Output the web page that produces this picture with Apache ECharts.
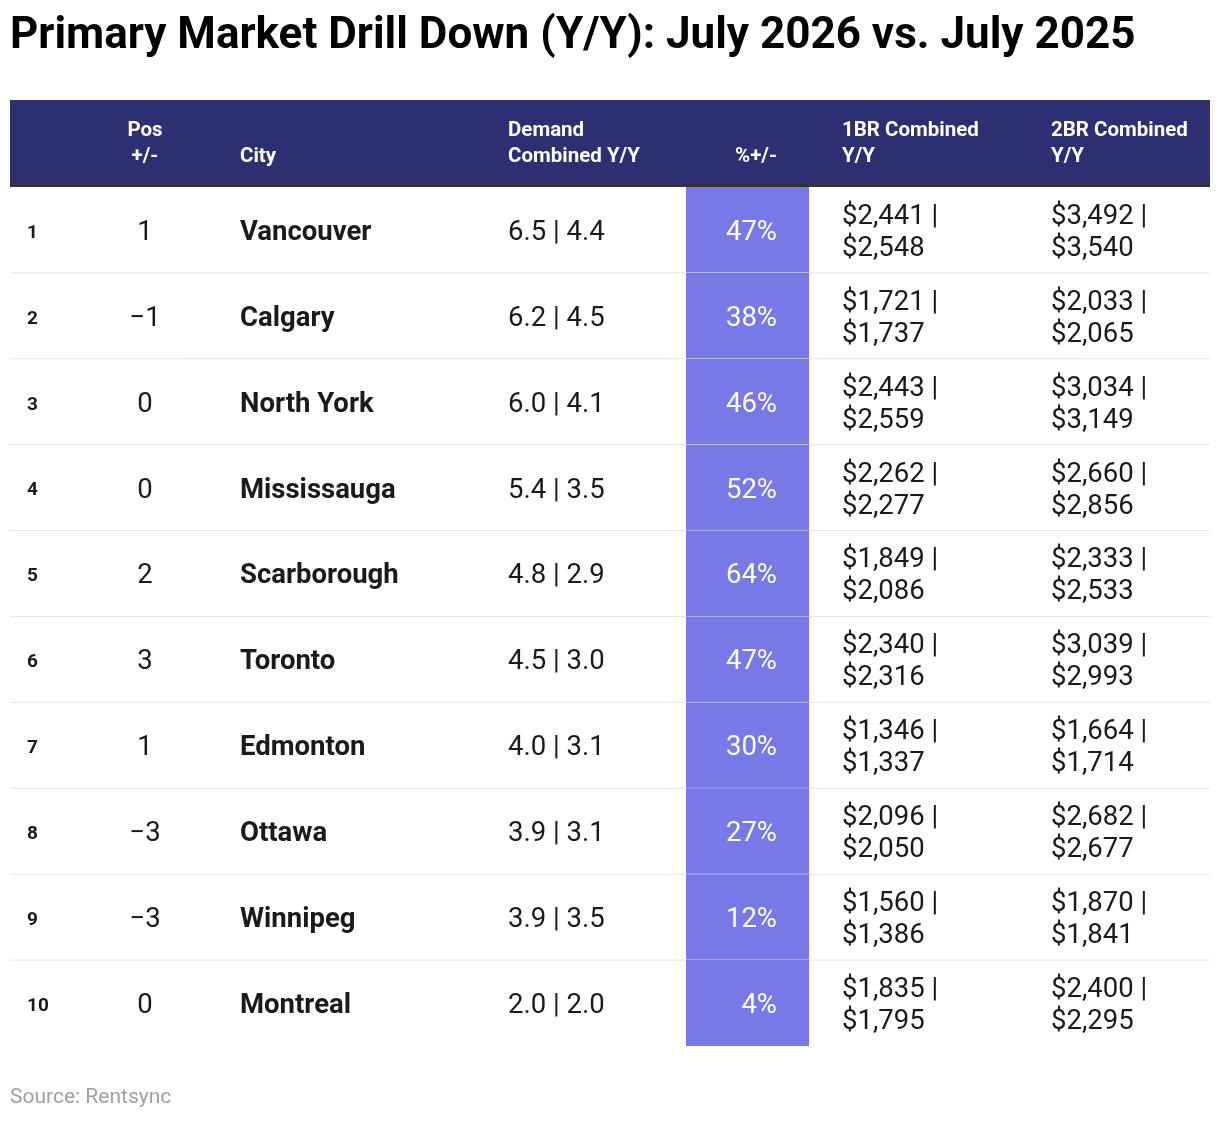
<!DOCTYPE html>
<html>
<head>
<meta charset="utf-8">
<script src="https://cdn.jsdelivr.net/npm/echarts@6/dist/echarts.min.js"></script>
<style>
html, body { margin: 0; padding: 0; background: #fff; }
#chart { width: 1220px; height: 1122px; }
</style>
</head>
<body>
<div id="chart"></div>
<script>
var ranks = ['1', '2', '3', '4', '5', '6', '7', '8', '9', '10'];
var posChange = ['1', '\u22121', '0', '0', '2', '3', '1', '\u22123', '\u22123', '0'];
var cities = ['Vancouver', 'Calgary', 'North York', 'Mississauga', 'Scarborough', 'Toronto', 'Edmonton', 'Ottawa', 'Winnipeg', 'Montreal'];
var demand = ['6.5 | 4.4', '6.2 | 4.5', '6.0 | 4.1', '5.4 | 3.5', '4.8 | 2.9', '4.5 | 3.0', '4.0 | 3.1', '3.9 | 3.1', '3.9 | 3.5', '2.0 | 2.0'];
var pctChange = [47, 38, 46, 52, 64, 47, 30, 27, 12, 4];
var br1 = [['$2,441', '$2,548'], ['$1,721', '$1,737'], ['$2,443', '$2,559'], ['$2,262', '$2,277'], ['$1,849', '$2,086'], ['$2,340', '$2,316'], ['$1,346', '$1,337'], ['$2,096', '$2,050'], ['$1,560', '$1,386'], ['$1,835', '$1,795']];
var br2 = [['$3,492', '$3,540'], ['$2,033', '$2,065'], ['$3,034', '$3,149'], ['$2,660', '$2,856'], ['$2,333', '$2,533'], ['$3,039', '$2,993'], ['$1,664', '$1,714'], ['$2,682', '$2,677'], ['$1,870', '$1,841'], ['$2,400', '$2,295']];

var chart = echarts.init(document.getElementById('chart'));
var font = 'Roboto';
var txt = '#1a1a1a';

function renderRow(params, api) {
	var i = api.value(0);
	var c = api.coord([0, i]);
	var cy = c[1];
	var h = api.size([0, 1])[1];
	var top = cy - h / 2;
	var kids = [];
	kids.push({ type: 'rect', shape: { x: 686, y: top, width: 123, height: h }, style: { fill: '#7679e6' } });
	if (i < ranks.length - 1) {
		kids.push({ type: 'line', shape: { x1: 10, y1: top + h, x2: 1210, y2: top + h }, style: { stroke: '#e4e4e4', lineWidth: 1 } });
	}
	function t(x, text, opt) {
		var s = { x: x, y: cy + 3, text: text, fill: txt, font: '27.5px ' + font, textAlign: 'left', textVerticalAlign: 'middle' };
		for (var k in opt) s[k] = opt[k];
		kids.push({ type: 'text', style: s });
	}
	t(27, ranks[i], { font: 'bold 19px ' + font });
	t(145, posChange[i], { textAlign: 'center' });
	t(240, cities[i], { font: 'bold 27.5px ' + font });
	t(508, demand[i]);
	t(777, pctChange[i] + '%', { textAlign: 'right', fill: '#fff' });
	t(842, br1[i][0] + ' |\n' + br1[i][1], { lineHeight: 32 });
	t(1051, br2[i][0] + ' |\n' + br2[i][1], { lineHeight: 32 });
	return { type: 'group', children: kids };
}

var headerStyle = { fill: '#fff', font: 'bold 20.5px ' + font, lineHeight: 26, textVerticalAlign: 'bottom' };
function head(x, y, text, align) {
	return { type: 'text', x: x, y: y, style: Object.assign({ text: text, textAlign: align || 'left' }, headerStyle) };
}

var option = {
	animation: false,
	grid: { left: 0, right: 0, top: 187, bottom: 76 },
	xAxis: { type: 'value', min: 0, max: 1220, show: false },
	yAxis: { type: 'category', data: ranks, inverse: true, show: false },
	graphic: [
		{ type: 'text', left: 10, top: 15, style: { text: 'Primary Market Drill Down (Y/Y): July 2026 vs. July 2025', font: 'bold 44px ' + font, fill: '#000' } },
		{ type: 'rect', shape: { x: 10, y: 100, width: 1200, height: 84 }, style: { fill: '#2e2e72' } },
		{ type: 'rect', shape: { x: 10, y: 183, width: 1200, height: 4 }, style: { fill: '#333' } },
		head(145, 170, 'Pos\n+/-', 'center'),
		head(240, 170, 'City'),
		head(508, 170, 'Demand\nCombined Y/Y'),
		head(777, 170, '%+/-', 'right'),
		head(842, 170, '1BR Combined\nY/Y'),
		head(1051, 170, '2BR Combined\nY/Y'),
		{ type: 'text', left: 10, top: 1087, style: { text: 'Source: Rentsync', font: '21px ' + font, fill: '#a0a0a0' } }
	],
	series: [{
		type: 'custom',
		renderItem: renderRow,
		data: ranks.map(function(r, i) { return [i]; }),
		encode: { y: 0 }
	}]
};
chart.setOption(option);
</script>
</body>
</html>
